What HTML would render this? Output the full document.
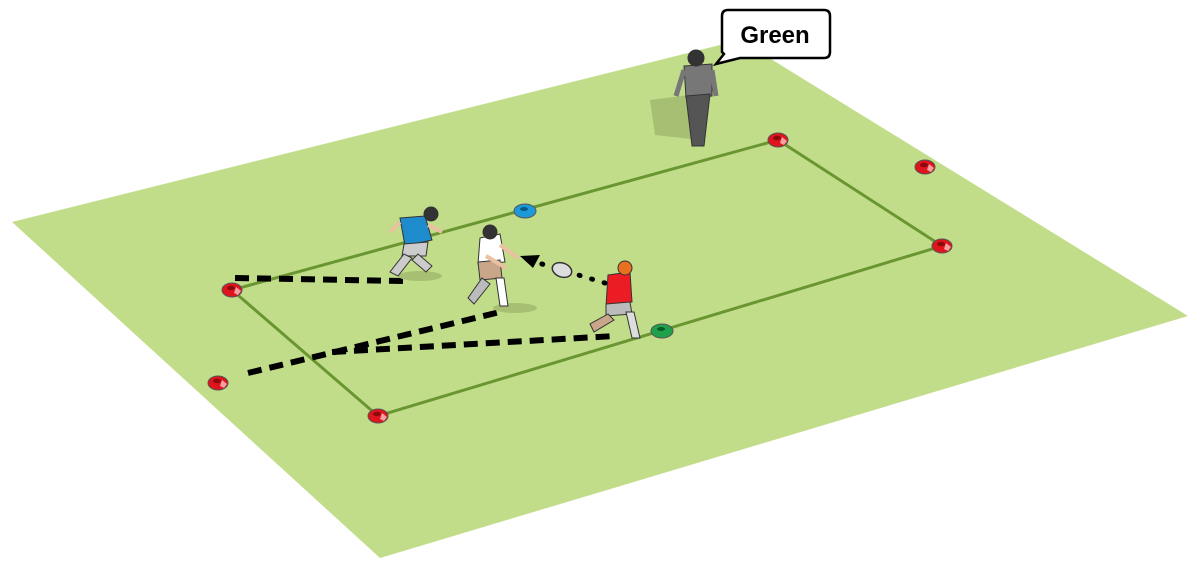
<!DOCTYPE html>
<html><head><meta charset="utf-8"><style>html,body{margin:0;padding:0;background:#fff;width:1201px;height:568px;overflow:hidden}</style></head><body>
<svg width="1201" height="568" viewBox="0 0 1201 568" xmlns="http://www.w3.org/2000/svg">
<defs>
<g id="cone"><ellipse cx="0" cy="0" rx="10" ry="7" fill="#e0141c" stroke="#555" stroke-width="1"/><ellipse cx="-1" cy="-2" rx="4" ry="2.2" fill="#8a0a0e"/><path d="M4,-3 L9,1 L6,5 L2,3Z" fill="#f4a0a0"/></g>
</defs>
<polygon points="12,222 740,40 1188,316 380,558" fill="#c2dd8a"/>
<polygon points="232,290 778,140 942,246 378,416" fill="none" stroke="#6a9632" stroke-width="3"/>
<!-- cones -->
<use href="#cone" x="232" y="290"/>
<use href="#cone" x="778" y="140"/>
<use href="#cone" x="942" y="246"/>
<use href="#cone" x="378" y="416"/>
<use href="#cone" x="218" y="383"/>
<use href="#cone" x="925" y="167"/>
<g transform="translate(525,211)"><ellipse rx="11" ry="7" fill="#1c9ad8" stroke="#555"/><ellipse cx="-1" cy="-2" rx="4" ry="2" fill="#0a5a8a"/></g>
<g transform="translate(662,331)"><ellipse rx="11" ry="7" fill="#1ea14a" stroke="#555"/><ellipse cx="-1" cy="-2" rx="4" ry="2" fill="#0a5a2a"/></g>
<!-- dashed runs -->
<g stroke="#000" stroke-width="6" stroke-dasharray="14,8" fill="none">
<path d="M235,278 L404,281"/>
<path d="M248,373 L500,312"/>
<path d="M332,352 L615,336"/>
</g>
<path d="M605,283 L532,261" stroke="#000" stroke-width="5" stroke-dasharray="1,12" stroke-linecap="round"/>
<polygon points="520,256 540,255 533,268" fill="#000"/>
<ellipse cx="562" cy="270" rx="10" ry="7" fill="#ddd" stroke="#333" stroke-width="1.5" transform="rotate(20 562 270)"/>
<!-- shadows -->
<ellipse cx="420" cy="276" rx="22" ry="5" fill="#a6bf72"/>
<ellipse cx="515" cy="308" rx="22" ry="5" fill="#a6bf72"/>
<path d="M650,100 L690,95 L700,140 L655,135Z" fill="#a6bf72"/>
<!-- blue player -->
<g stroke="#333" stroke-width="1">
<path d="M400,218 L425,216 L432,240 L405,246Z" fill="#1e8ccc"/>
<path d="M404,244 L428,242 L426,256 L402,256Z" fill="#ccc"/>
<path d="M404,254 L390,272 L398,276 L412,258Z" fill="#ccc"/>
<path d="M418,254 L432,266 L426,272 L412,260Z" fill="#ccc"/>
<circle cx="431" cy="214" r="7" fill="#333"/>
<path d="M400,222 L390,232" stroke="#e9c1a0" stroke-width="4"/>
<path d="M428,225 L442,232" stroke="#e9c1a0" stroke-width="4"/>
<!-- white player -->
<path d="M480,238 L500,234 L505,262 L478,264Z" fill="#fff"/>
<path d="M478,262 L500,260 L502,278 L480,280Z" fill="#c9a68a"/>
<path d="M482,278 L468,298 L474,304 L490,284Z" fill="#bbb"/>
<path d="M496,278 L500,306 L508,306 L504,278Z" fill="#fff"/>
<circle cx="490" cy="232" r="7" fill="#333"/>
<path d="M500,245 L518,258" stroke="#e9c1a0" stroke-width="4"/>
<path d="M486,256 L506,268" stroke="#e9c1a0" stroke-width="4"/>
<!-- red player -->
<path d="M608,275 L630,272 L632,302 L606,306Z" fill="#ec1c24"/>
<path d="M606,304 L630,302 L632,314 L606,316Z" fill="#bbb"/>
<path d="M608,314 L590,324 L594,332 L614,320Z" fill="#c9a68a"/>
<path d="M626,312 L632,338 L640,338 L634,312Z" fill="#ddd"/>
<circle cx="625" cy="268" r="7" fill="#e87020"/>
<!-- coach -->
<path d="M684,66 L712,64 L712,96 L686,98Z" fill="#777"/>
<path d="M686,96 L710,94 L704,146 L692,146Z" fill="#555"/>
<circle cx="696" cy="58" r="8" fill="#333"/>
<path d="M684,70 L676,96" stroke="#777" stroke-width="5"/>
<path d="M712,70 L716,96" stroke="#777" stroke-width="5"/>
</g>
<!-- bubble -->
<path d="M728,10 L824,10 Q830,10 830,16 L830,52 Q830,58 824,58 L740,58 L716,64 L724,54 L722,52 L722,16 Q722,10 728,10Z" fill="#fff" stroke="#000" stroke-width="2.5"/>
<text x="775" y="43" text-anchor="middle" font-family="Liberation Sans, sans-serif" font-weight="bold" font-size="24" fill="#000">Green</text>
</svg>
</body></html>
